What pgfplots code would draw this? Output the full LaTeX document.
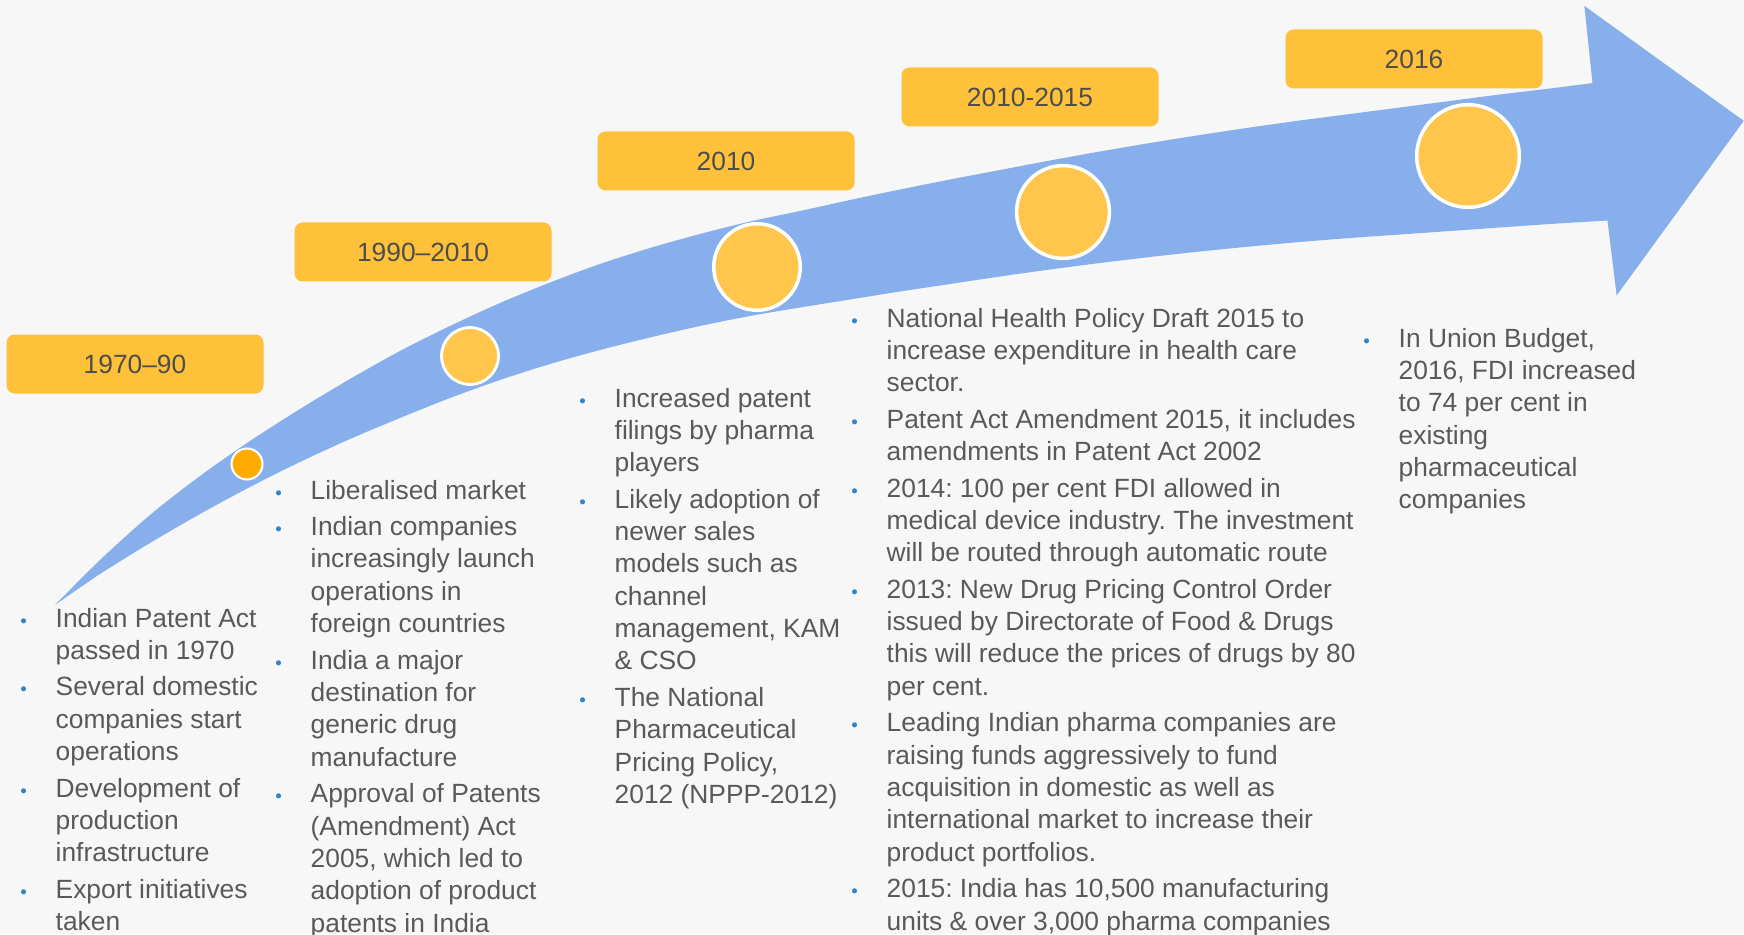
\documentclass[border=0pt]{standalone}
\usepackage{pgfplots}
\pgfplotsset{compat=1.18}
\usepgfplotslibrary{fillbetween}
\usepackage{fontspec}
\setmainfont{Liberation Sans}
\frenchspacing
\definecolor{bgc}{HTML}{F7F7F7}
\definecolor{arrowc}{HTML}{87AFEB}
\definecolor{boxc}{HTML}{FFC13A}
\definecolor{circc}{HTML}{FFC64B}
\definecolor{smallc}{HTML}{FFAB00}
\definecolor{txtc}{HTML}{595959}
\definecolor{boxtxt}{HTML}{4D4D4D}
\definecolor{bulc}{HTML}{2E86C9}
\newlength{\itemgap}\setlength{\itemgap}{1.2pt}
\newcommand{\bul}{\llap{\makebox[0pt][c]{\textcolor{bulc}{\fontsize{5.3pt}{5pt}\selectfont\textbullet}}\hspace{3.2mm}}}
\newcommand{\Ln}[1]{\hbox{#1}}
\newcommand{\Bf}[1]{\hbox{\bul#1}}
\newcommand{\Bi}[1]{\vskip\itemgap\hbox{\bul#1}}
\tikzset{
  yearbox/.style={fill=boxc, rounded corners=2.3pt, minimum width=25.7mm, minimum height=5.9mm, inner sep=0pt, text=boxtxt, font=\fontsize{7.5pt}{9pt}\selectfont},
  blk/.style={anchor=base west, inner sep=0pt, text=txtc, font=\fontsize{7.5pt}{9.2pt}\selectfont\frenchspacing}
}
\begin{document}
\begin{tikzpicture}
\begin{axis}[
  width=174.4mm, height=93.4mm, scale only axis,
  xmin=0, xmax=1744, ymin=0, ymax=934, y dir=reverse,
  hide axis, clip=false,
  fill between/on layer=main
]
% background
\addplot[fill=bgc, draw=none] coordinates {(0,0) (1744,0) (1744,934) (0,934)};
% arrow body edges
\addplot[name path=U, draw=none, smooth] coordinates {
 (55,605) (100,560) (150,515) (200,476) (250,441) (300,409) (350,379) (400,351)
 (450,326) (500,303) (550,282.5) (600,264) (650,248) (700,234) (750,221.5) (800,211)
 (850,200) (900,189.5) (950,179.5) (1000,170) (1050,160.5) (1100,151.5) (1150,143)
 (1200,135) (1250,127.5) (1300,120.5) (1350,114) (1400,107.5) (1450,101) (1500,94.5)
 (1550,88.5) (1593,83)};
\addplot[name path=L, draw=none, smooth] coordinates {
 (55,605) (100,574) (150,543) (200,514) (250,487) (300,462) (350,439) (400,418)
 (450,398) (500,380) (550,364) (600,350) (650,337.5) (700,326) (750,316) (800,307.5)
 (850,299.5) (900,291.5) (950,284) (1000,276.5) (1050,269.5) (1100,263) (1150,257)
 (1200,251.5) (1250,246.5) (1300,242) (1350,238) (1400,234.5) (1450,231) (1500,227.5)
 (1550,224) (1608,220.5)};
\addplot[fill=arrowc, draw=none] fill between[of=U and L];
% arrow head
\addplot[fill=arrowc, draw=arrowc, line width=0.3pt] coordinates {(1593,83) (1585,7) (1743,121) (1617,294) (1608,220.5) (1593,83)};
% milestone circles
\addplot[only marks, mark=*, mark size=4.4pt, mark options={fill=smallc, draw=white, line width=0.6pt}] coordinates {(247,464)};
\addplot[only marks, mark=*, mark size=8.1pt, mark options={fill=circc, draw=white, line width=0.8pt}] coordinates {(470,356)};
\addplot[only marks, mark=*, mark size=12.3pt, mark options={fill=circc, draw=white, line width=1pt}] coordinates {(757,267)};
\addplot[only marks, mark=*, mark size=13.2pt, mark options={fill=circc, draw=white, line width=1pt}] coordinates {(1063,212)};
\addplot[only marks, mark=*, mark size=14.6pt, mark options={fill=circc, draw=white, line width=1pt}] coordinates {(1468,156)};
% year boxes
\node[yearbox] at (axis cs:135,364) {1970–90};
\node[yearbox] at (axis cs:423,252) {1990–2010};
\node[yearbox] at (axis cs:726,161) {2010};
\node[yearbox] at (axis cs:1030,97) {2010-2015};
\node[yearbox] at (axis cs:1414,59) {2016};
% text blocks
\node[blk] at (axis cs:55,627) {\vtop{%
 \Bf{Indian Patent Act}\Ln{passed in 1970}%
 \Bi{Several domestic}\Ln{companies start}\Ln{operations}%
 \Bi{Development of}\Ln{production}\Ln{infrastructure}%
 \Bi{Export initiatives}\Ln{taken}}};
\node[blk] at (axis cs:310,499) {\vtop{%
 \Bf{Liberalised market}%
 \Bi{Indian companies}\Ln{increasingly launch}\Ln{operations in}\Ln{foreign countries}%
 \Bi{India a major}\Ln{destination for}\Ln{generic drug}\Ln{manufacture}%
 \Bi{Approval of Patents}\Ln{(Amendment) Act}\Ln{2005, which led to}\Ln{adoption of product}\Ln{patents in India}}};
\node[blk] at (axis cs:614,407) {\vtop{%
 \Bf{Increased patent}\Ln{filings by pharma}\Ln{players}%
 \Bi{Likely adoption of}\Ln{newer sales}\Ln{models such as}\Ln{channel}\Ln{management, KAM}\Ln{\& CSO}%
 \Bi{The National}\Ln{Pharmaceutical}\Ln{Pricing Policy,}\Ln{2012 (NPPP-2012)}}};
\node[blk] at (axis cs:886,327) {\vtop{%
 \Bf{National Health Policy Draft 2015 to}\Ln{increase expenditure in health care}\Ln{sector.}%
 \Bi{Patent Act Amendment 2015, it includes}\Ln{amendments in Patent Act 2002}%
 \Bi{2014: 100 per cent FDI allowed in}\Ln{medical device industry. The investment}\Ln{will be routed through automatic route}%
 \Bi{2013: New Drug Pricing Control Order}\Ln{issued by Directorate of Food \& Drugs}\Ln{this will reduce the prices of drugs by 80}\Ln{per cent.}%
 \Bi{Leading Indian pharma companies are}\Ln{raising funds aggressively to fund}\Ln{acquisition in domestic as well as}\Ln{international market to increase their}\Ln{product portfolios.}%
 \Bi{2015: India has 10,500 manufacturing}\Ln{units \& over 3,000 pharma companies}}};
\node[blk] at (axis cs:1398,347) {\vtop{%
 \Bf{In Union Budget,}\Ln{2016, FDI increased}\Ln{to 74 per cent in}\Ln{existing}\Ln{pharmaceutical}\Ln{companies}}};
\end{axis}
\pgfresetboundingbox
\useasboundingbox (current axis.south west) rectangle (current axis.north east);
\end{tikzpicture}
\end{document}
